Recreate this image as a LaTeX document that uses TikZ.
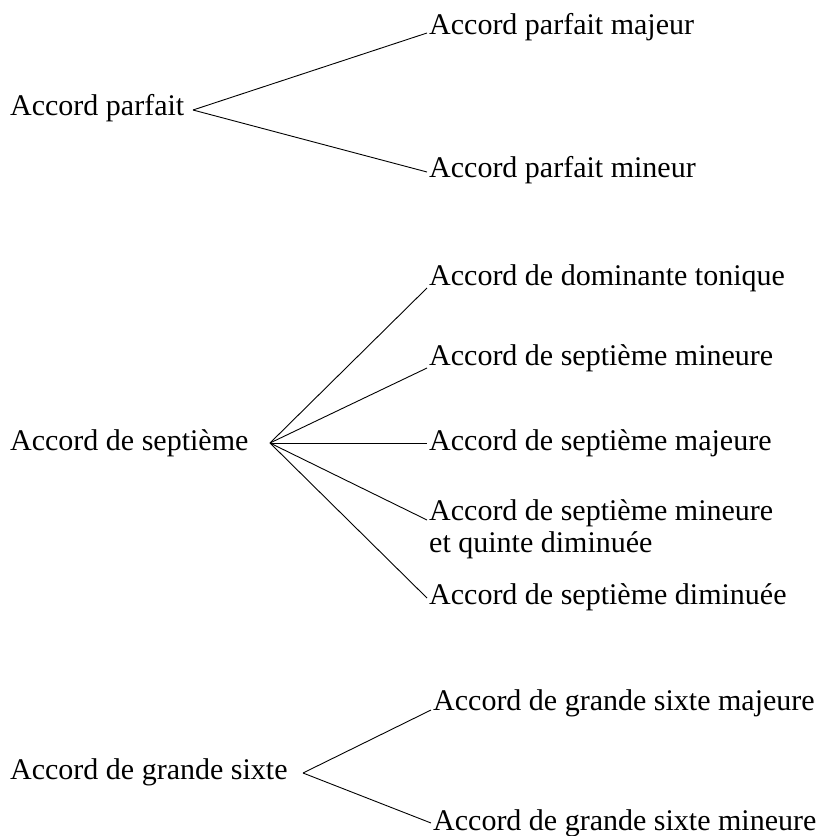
\documentclass[tikz,border=0pt]{standalone}
\usepackage{fontspec}
\setmainfont{Liberation Serif}
\usetikzlibrary{positioning}

\begin{document}
\begin{tikzpicture}[x=1pt,y=-1pt,
  chord/.style={inner sep=2pt,font=\fontsize{30}{32}\selectfont},
  kind/.style={chord,anchor=west},
  sort/.style={chord,anchor=west,align=left},
  branch/.style={draw=black,line width=0.9pt}]
  \useasboundingbox (0,0) rectangle (823,836);
  % accord parfait
  \node[kind] (parf) at (8,108) {Accord parfait};
  \coordinate (fparf) at (193,110);
  \node[sort] (pmaj) at (427,27) {Accord parfait majeur};
  \node[sort] (pmin) at (427,170) {Accord parfait mineur};
  \foreach \c/\s in {pmaj/-6,pmin/-2}
    \draw[branch] (fparf) -- ([yshift=\s pt]\c.west);
  % accord de septieme
  \node[kind] (sept) at (8,443) {Accord de septième};
  \coordinate (fsept) at (270,443);
  \node[sort] (sdom) at (427,278) {Accord de dominante tonique};
  \node[sort] (smin) at (427,358) {Accord de septième mineure};
  \node[sort] (smaj) at (427,443) {Accord de septième majeure};
  \node[sort] (squi) at (427,529) {Accord de septième mineure\\et quinte diminuée};
  \node[sort] (sdim) at (427,597) {Accord de septième diminuée};
  \foreach \c/\s in {sdom/-10,smin/-10,smaj/0,squi/9,sdim/-1}
    \draw[branch] (fsept) -- ([yshift=\s pt]\c.west);
  % accord de grande sixte
  \node[kind] (gsix) at (8,772) {Accord de grande sixte};
  \coordinate (fgsix) at (303,773);
  \node[sort] (gmaj) at (431,703) {Accord de grande sixte majeure};
  \node[sort] (gmin) at (431,823) {Accord de grande sixte mineure};
  \foreach \c/\s in {gmaj/-7,gmin/0}
    \draw[branch] (fgsix) -- ([yshift=\s pt]\c.west);
\end{tikzpicture}
\end{document}
